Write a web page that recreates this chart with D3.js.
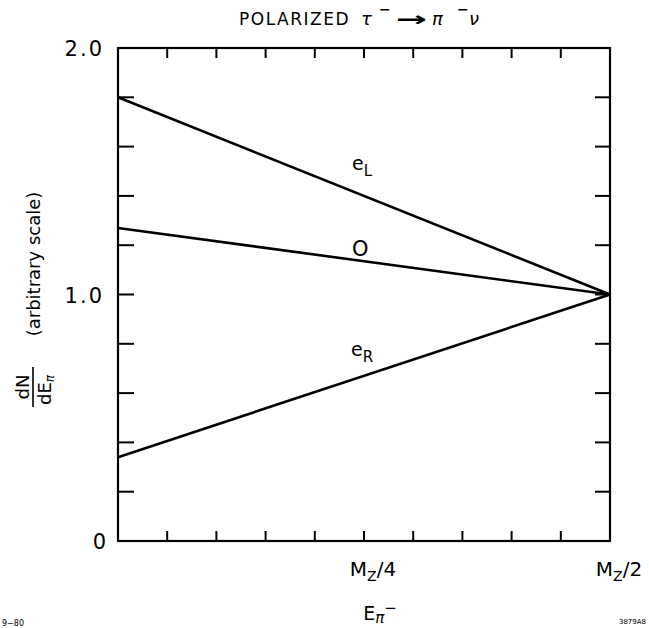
<!DOCTYPE html>
<html>
<head>
<meta charset="utf-8">
<script src="https://cdn.jsdelivr.net/npm/d3@7"></script>
<style>
  body { margin: 0; background: #fff; }
  text { font-family: "DejaVu Sans", "Liberation Sans", sans-serif; fill: #000; }
</style>
</head>
<body>
<div id="chart"></div>
<script>
// energy axis runs from 0 to Mz/2, expressed as a fraction of Mz
const xDomain = [0, 0.5];
const xTickLabels = [{ v: 0.25, main: "M", sub: "Z", rest: "/4" }, { v: 0.5, main: "M", sub: "Z", rest: "/2" }];
const yTickLabels = [{ v: 0, t: "0" }, { v: 1.0, t: "1.0" }, { v: 2.0, t: "2.0" }];
// the three polarization cases: value at E=0 and at E=Mz/2
const seriesNames = ["eL", "O", "eR"];
const startValues = [1.80, 1.27, 0.34];
const endValues = [1.0, 1.0, 1.0];

const width = 649, height = 628;
const margin = { top: 48, right: 39, bottom: 87, left: 118 };

const svg = d3.select('#chart').append('svg')
  .attr('width', width)
  .attr('height', height);

const x = d3.scaleLinear().domain(xDomain).range([margin.left, width - margin.right]);
const y = d3.scaleLinear().domain([0, 2]).range([height - margin.bottom, margin.top]);

const x0 = x.range()[0], x1 = x.range()[1];
const y0 = y.range()[0], y1 = y.range()[1];

// frame
svg.append('rect')
  .attr('x', x0).attr('y', y1)
  .attr('width', x1 - x0).attr('height', y0 - y1)
  .attr('fill', 'none').attr('stroke', '#000').attr('stroke-width', 2.2);

// ticks: 10 divisions on x, 0.2 steps on y
const xt = d3.range(1, 10).map(i => i * 0.05);
const yt = d3.range(1, 10).map(i => i * 0.2);
const g = svg.append('g').attr('stroke', '#000').attr('stroke-width', 2);
xt.forEach(v => {
  g.append('line').attr('x1', x(v)).attr('x2', x(v)).attr('y1', y0).attr('y2', y0 - 10);
  g.append('line').attr('x1', x(v)).attr('x2', x(v)).attr('y1', y1).attr('y2', y1 + 10);
});
yt.forEach(v => {
  g.append('line').attr('x1', x0).attr('x2', x0 + 16).attr('y1', y(v)).attr('y2', y(v));
  g.append('line').attr('x1', x1).attr('x2', x1 - 15).attr('y1', y(v)).attr('y2', y(v));
});

// lines
const line = d3.line().x(d => x(d[0])).y(d => y(d[1]));
seriesNames.forEach((n, i) => {
  svg.append('path')
    .attr('d', line([[xDomain[0], startValues[i]], [xDomain[1], endValues[i]]]))
    .attr('fill', 'none').attr('stroke', '#000').attr('stroke-width', 2.6);
});

// line labels
function subLabel(px, py, main, sub) {
  const t = svg.append('text').attr('x', px).attr('y', py).attr('font-size', 19);
  t.append('tspan').text(main);
  if (sub) t.append('tspan').attr('dy', 6).attr('font-size', 15).text(sub);
}
subLabel(352, 170, 'e', 'L');
svg.append('text').attr('x', 352).attr('y', 256).attr('font-size', 21).text('O');
subLabel(351, 356, 'e', 'R');

// y tick labels
yTickLabels.forEach(d => {
  svg.append('text')
    .attr('x', d.v === 0 ? 106 : 104).attr('y', y(d.v) + 8)
    .attr('text-anchor', 'end').attr('font-size', 21)
    .attr('letter-spacing', d.v === 0 ? 0 : 2)
    .text(d.t);
});

// x tick labels
xTickLabels.forEach(d => {
  const t = svg.append('text')
    .attr('x', x(d.v) + 9).attr('y', 576)
    .attr('text-anchor', 'middle').attr('font-size', 20);
  t.append('tspan').text(d.main);
  t.append('tspan').attr('dy', 5).attr('font-size', 14).text(d.sub);
  t.append('tspan').attr('dy', -5).text(d.rest);
});

// x axis title
const xl = svg.append('text').attr('x', 380).attr('y', 620).attr('text-anchor', 'middle').attr('font-size', 19);
xl.append('tspan').text('E');
xl.append('tspan').attr('dy', 3).attr('font-size', 15).attr('font-style', 'italic').text('π');
xl.append('tspan').attr('dy', -10).attr('font-size', 15).text('−');

// y axis title
const yl = svg.append('g').attr('transform', 'translate(33,387) rotate(-90)');
yl.append('text').attr('x', 0).attr('y', -4).attr('text-anchor', 'middle').attr('font-size', 18).text('dN');
yl.append('line').attr('x1', -20).attr('x2', 20).attr('y1', 0).attr('y2', 0).attr('stroke', '#000').attr('stroke-width', 1.6);
const de = yl.append('text').attr('x', -3).attr('y', 18).attr('text-anchor', 'middle').attr('font-size', 18);
de.append('tspan').text('dE');
de.append('tspan').attr('dy', 3).attr('font-size', 12).attr('font-style', 'italic').text('π');
svg.append('text')
  .attr('transform', 'translate(40,264) rotate(-90)')
  .attr('text-anchor', 'middle').attr('font-size', 18)
  .text('(arbitrary scale)');

// title
const title = svg.append('g');
title.append('text').attr('x', 350).attr('y', 25).attr('text-anchor', 'end')
  .attr('font-size', 17).attr('letter-spacing', 1.5).text('POLARIZED');
title.append('text').attr('x', 361).attr('y', 25).attr('font-size', 18).attr('font-style', 'italic').text('τ');
title.append('text').attr('x', 379).attr('y', 14).attr('font-size', 14).attr('font-weight', 'bold').text('−');
title.append('text').attr('x', 396).attr('y', 26).attr('font-size', 20).attr('font-weight', 'bold')
  .attr('textLength', 31).attr('lengthAdjust', 'spacingAndGlyphs').text('→');
title.append('text').attr('x', 432).attr('y', 25).attr('font-size', 18).attr('font-style', 'italic').text('π');
title.append('text').attr('x', 457).attr('y', 14).attr('font-size', 14).attr('font-weight', 'bold').text('−');
title.append('text').attr('x', 469).attr('y', 25).attr('font-size', 18).attr('font-style', 'italic').text('ν');

// corner notes
svg.append('text').attr('x', 2).attr('y', 626).attr('font-size', 8).text('9−80');
svg.append('text').attr('x', 646).attr('y', 624).attr('text-anchor', 'end').attr('font-size', 7).text('3879A8');
</script>
</body>
</html>
